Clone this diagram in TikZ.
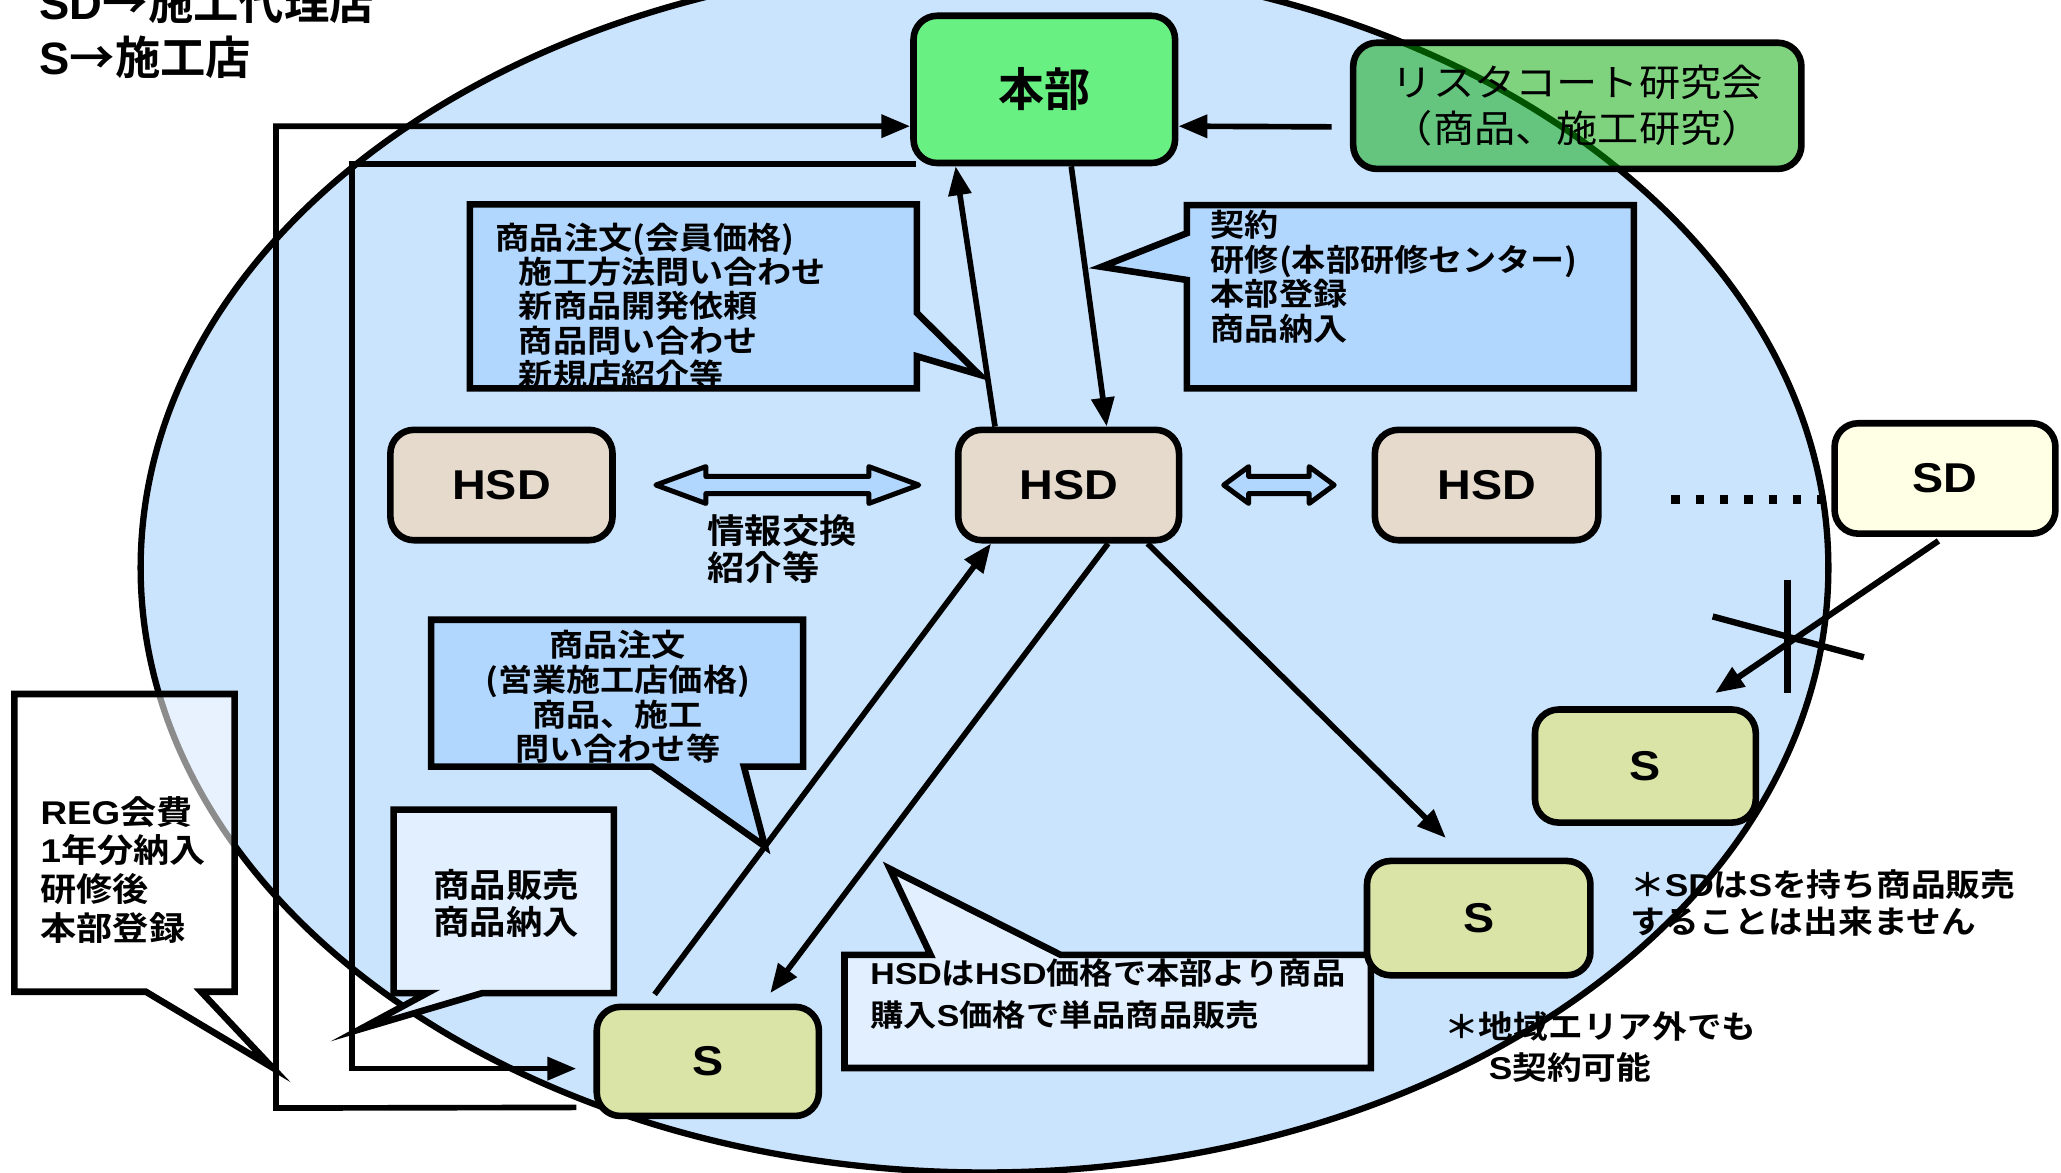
\documentclass[tikz,border=0pt]{standalone}
\usepackage{fontspec}
\usetikzlibrary{arrows.meta,calc}
\setmainfont{Liberation Sans}
\newfontfamily\jp{Noto Sans CJK JP}[BoldFont=* Bold]
\newfontfamily\jpw{Noto Sans CJK JP}[BoldFont=* Bold, FakeStretch=1.1]
\newfontfamily\lat{Liberation Sans}
\newfontfamily\latw{Liberation Sans}[FakeStretch=1.12]
\newcommand\La[1]{{\lat #1}}
\newcommand\lw[1]{{\latw #1}}
\definecolor{ellblue}{RGB}{203,228,253}
\definecolor{cblue}{RGB}{178,215,255}
\definecolor{pblue}{RGB}{226,239,255}
\definecolor{hqgreen}{RGB}{104,240,130}
\definecolor{rsgreen}{RGB}{0,168,0}
\definecolor{hsdtan}{RGB}{230,218,205}
\definecolor{sgreen}{RGB}{217,228,166}
\definecolor{sdyel}{RGB}{255,255,230}
\begin{document}
\begin{tikzpicture}[x=1pt,y=-1pt,
  box/.style={draw, line width=5pt, rounded corners=18pt, inner sep=0pt,
    font=\latw\bfseries\fontsize{31.7}{31.7}\selectfont},
  ln/.style={line width=4.3pt},
  arr/.style={line width=4.3pt, -{Triangle[length=22pt,width=17pt]}},
  co/.style={line width=5pt, line join=miter},
  dbl/.style={draw, line width=3.8pt, line join=round, fill=cblue},
  jt/.style={inner sep=0pt, align=left},
]
\useasboundingbox (0,0) rectangle (1568,892);
\clip (0,0) rectangle (1568,892);

% big ellipse
\draw[line width=4.8pt, fill=ellblue] (749,432) ellipse [x radius=642, y radius=460];

% legend
\node[jt, anchor=base west, font=\jp\bfseries\fontsize{34.5}{42}\selectfont] (leg1) at (30,15) {\La{SD}→施工代理店};
\node[jt, anchor=base west, font=\jp\bfseries\fontsize{34.5}{42}\selectfont] (leg2) at (30,57) {\La{S}→施工店};

% callout 1
\fill[cblue] (357.5,155.5) -- (697.5,155.5) -- (697.5,238) -- (745,285) -- (697.5,271) -- (697.5,295.5) -- (357.5,295.5) -- cycle;
\node[jt, anchor=north west, font=\jpw\bfseries\fontsize{23.6}{26}\selectfont] (c1t) at (377,169.5)
  {商品注文(会員価格)\\\hspace*{17.6pt}施工方法問い合わせ\\\hspace*{17.6pt}新商品開発依頼\\\hspace*{17.6pt}商品問い合わせ\\\hspace*{17.6pt}新規店紹介等};
\draw[co] (357.5,155.5) -- (697.5,155.5) -- (697.5,238) -- (745,285) -- (697.5,271) -- (697.5,295.5) -- (357.5,295.5) -- cycle;

% callout 2
\draw[co, fill=cblue] (903,156) -- (1243,156) -- (1243,295.5) -- (903,295.5) -- (903,213) -- (838,203) -- (903,177.4) -- cycle;
\node[jt, anchor=north west, font=\jpw\bfseries\fontsize{23.6}{26.5}\selectfont] (c2t) at (921,159.5)
  {契約\\研修(本部研修センター)\\本部登録\\商品納入};

% callout 3
\draw[co, fill=cblue] (328,471.5) -- (611,471.5) -- (611,583.3) -- (566,583.3) -- (582,644) -- (496,583.3) -- (328,583.3) -- cycle;
\node[inner sep=0pt, align=center, anchor=north, font=\jpw\bfseries\fontsize{23.6}{26.3}\selectfont] (c3t) at (470,479.5)
  {商品注文\\(営業施工店価格)\\商品、施工\\問い合わせ等};

% callout 4
\draw[co, fill=pblue] (299.5,616) -- (467,616) -- (467,755.5) -- (367,755.5) -- (274,783) -- (325,755.5) -- (299.5,755.5) -- cycle;
\node[inner sep=0pt, align=center, anchor=north, font=\jpw\bfseries\fontsize{25.2}{28}\selectfont] (c4t) at (385,661.5)
  {商品販売\\商品納入};

% callout 5
\draw[co, fill=white, fill opacity=0.55] (11,528) -- (178.5,528) -- (178.5,754.5) -- (153,754.5) -- (207,812) -- (111,754.5) -- (11,754.5) -- cycle;
\node[jt, anchor=north west, font=\jpw\bfseries\fontsize{25}{29.5}\selectfont] (c5t) at (30.7,605.5)
  {\lw{REG}会費\\\lw{1}年分納入\\研修後\\本部登録};

% callout 6
\draw[co, fill=pblue] (642.5,726.5) -- (708,726.5) -- (677,661) -- (807,726.5) -- (1043,726.5) -- (1043,812.5) -- (642.5,812.5) -- cycle;
\node[jt, anchor=north west, font=\jpw\bfseries\fontsize{23}{32}\selectfont] (c6t) at (662,729.5)
  {\lw{HSD}は\lw{HSD}価格で本部より商品\\購入\lw{S}価格で単品商品販売};

% boxes
\node[box, fill=hqgreen, minimum width=199pt, minimum height=112pt,
  font=\jp\bfseries\fontsize{35}{35}\selectfont] (hq) at (794.5,68) {本部};
\node[box, fill=rsgreen, fill opacity=0.5, text opacity=1, minimum width=341pt, minimum height=96pt,
  align=center, font=\jpw\fontsize{28.5}{35}\selectfont] (rs) at (1200,80.5) {リスタコート研究会\\（商品、施工研究）};
\node[box, fill=hsdtan, minimum width=169pt, minimum height=84pt] (hsdL) at (381.5,369) {HSD};
\node[box, fill=hsdtan, minimum width=168pt, minimum height=84pt] (hsdC) at (813,369) {HSD};
\node[box, fill=hsdtan, minimum width=170pt, minimum height=84pt] (hsdR) at (1131,369) {HSD};
\node[box, fill=sdyel, minimum width=168pt, minimum height=84pt] (sd) at (1479.75,364) {SD};
\node[box, fill=sgreen, minimum width=168pt, minimum height=86pt] (s1) at (1251.8,582.8) {S};
\node[box, fill=sgreen, minimum width=170pt, minimum height=87pt] (s2) at (1125,698.5) {S};
\node[box, fill=sgreen, minimum width=169pt, minimum height=83pt] (s3) at (538.5,807.5) {S};

% label between HSDs
\node[jt, anchor=north west, font=\jpw\bfseries\fontsize{25.8}{28}\selectfont] (info) at (538,391.5) {情報交換\\紹介等};

% notes
\node[jt, anchor=north west, font=\jpw\bfseries\fontsize{24}{28}\selectfont] (note1) at (1240,661.5)
  {＊\lw{SD}は\lw{S}を持ち商品販売\\することは出来ません};
\node[jt, anchor=north west, font=\jpw\bfseries\fontsize{24}{31}\selectfont] (note2) at (1098.6,769.5)
  {＊地域エリア外でも\\\hspace*{34pt}\lw{S}契約可能};

% double arrows
\draw[dbl] (499,369) -- (537,355) -- (537,362.5) -- (661,362.5) -- (661,355) -- (699,369) -- (661,383) -- (661,375.5) -- (537,375.5) -- (537,383) -- cycle;
\draw[dbl] (931,369) -- (950,355) -- (950,362.5) -- (996,362.5) -- (996,355) -- (1015,369) -- (996,383) -- (996,375.5) -- (950,375.5) -- (950,383) -- cycle;

% L-shaped lines on the left
\coordinate (o1) at (210,843);
\coordinate (o2) at (210,96);
\coordinate (i1) at (268,125);
\coordinate (i2) at (268,813);
\draw[arr, line join=miter] ($(s3.west)+(-13,35)$) -- (o1) -- (o2) -- ($(hq.west)+(0,28)$);
\draw[arr, line join=miter] ($(hq.south west)+(4,-1.5)$) -- (i1) -- (i2) -- ($(s3.west)+(-13,5.5)$);

% arrows
\draw[arr] ($(rs.west)+(-14,16)$) -- ($(hq.east)+(0,28)$);
\draw[arr] ([xshift=-56pt]hsdC.north) -- ([xshift=-67.5pt]hq.south);
\draw[arr] ([xshift=20.5pt]hq.south) -- ([xshift=29pt]hsdC.north);
\draw[arr] ($(hsdC.south)+(60,0)$) -- ($(s2.north)+(-25,-15)$);
\draw[arr] ($(hsdC.south)+(30,0)$) -- ($(s3.north)+(47.5,-8)$);
\draw[arr] ($(s3.north)+(-40.5,-7)$) -- ($(hsdC.south)+(-59,0)$);
\draw[arr, line width=4.6pt] ($(sd.south)+(-5,3)$) -- ($(s1.north)+(53,-10)$);

% cross mark
\draw[ln, line width=4.8pt] (1360,441) -- (1360,527);
\draw[ln, line width=4.8pt] (1303,469) -- (1418,500);

% dotted link HSD ... SD
\draw[line width=6.5pt, dash pattern=on 6.5pt off 12pt] ($(hsdR.east)+(53,11)$) -- ($(sd.west)+(-6,16)$);
\end{tikzpicture}
\end{document}
